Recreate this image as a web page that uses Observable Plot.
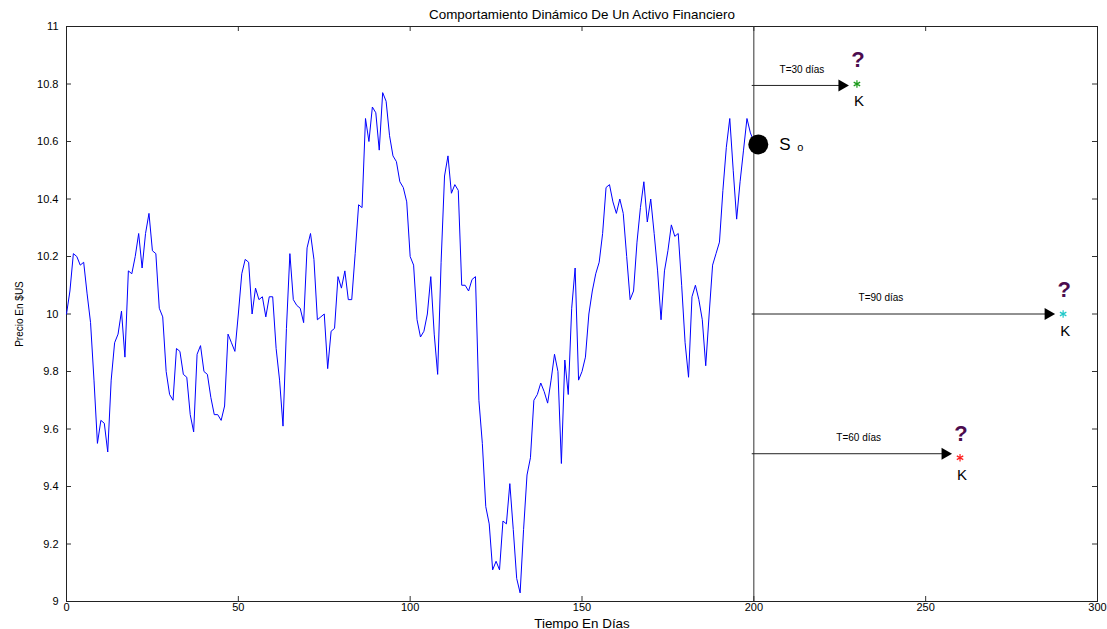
<!DOCTYPE html>
<html>
<head>
<meta charset="utf-8">
<script src="https://cdn.jsdelivr.net/npm/d3@7"></script>
<script src="https://cdn.jsdelivr.net/npm/@observablehq/plot@0.6"></script>
<style>
  html, body { margin: 0; padding: 0; background: #fff; }
  #chart svg { display: block; }
</style>
</head>
<body>
<div id="chart"></div>
<script>
// ---- data ----
const prices = [
  10.00, 10.08, 10.21, 10.20, 10.17, 10.18, 10.07, 9.97, 9.77, 9.55,
  9.63, 9.62, 9.52, 9.77, 9.90, 9.93, 10.01, 9.85, 10.15, 10.14,
  10.20, 10.28, 10.16, 10.28, 10.35, 10.22, 10.21, 10.02, 9.99, 9.80,
  9.72, 9.70, 9.88, 9.87, 9.79, 9.78, 9.65, 9.59, 9.86, 9.89,
  9.80, 9.79, 9.71, 9.65, 9.65, 9.63, 9.68, 9.93, 9.90, 9.87,
  10.00, 10.14, 10.19, 10.18, 10.00, 10.09, 10.05, 10.06, 9.99, 10.06,
  10.06, 9.88, 9.77, 9.61, 9.95, 10.21, 10.05, 10.03, 10.02, 9.97,
  10.23, 10.28, 10.19, 9.98, 9.99, 10.00, 9.81, 9.94, 9.95, 10.13,
  10.09, 10.15, 10.05, 10.05, 10.21, 10.38, 10.37, 10.68, 10.60, 10.72,
  10.70, 10.57, 10.77, 10.74, 10.62, 10.55, 10.53, 10.46, 10.44, 10.39,
  10.20, 10.17, 9.98, 9.92, 9.94, 10.00, 10.13, 9.93, 9.79, 10.18,
  10.48, 10.55, 10.42, 10.45, 10.43, 10.10, 10.10, 10.08, 10.12, 10.13,
  9.70, 9.55, 9.33, 9.27, 9.11, 9.14, 9.11, 9.28, 9.27, 9.41,
  9.25, 9.08, 9.03, 9.25, 9.44, 9.50, 9.70, 9.72, 9.76, 9.73,
  9.69, 9.77, 9.86, 9.80, 9.48, 9.84, 9.72, 10.02, 10.16, 9.77,
  9.80, 9.85, 10.00, 10.08, 10.14, 10.18, 10.28, 10.44, 10.45, 10.39,
  10.35, 10.40, 10.35, 10.20, 10.05, 10.08, 10.25, 10.37, 10.46, 10.32,
  10.40, 10.28, 10.15, 9.98, 10.15, 10.22, 10.31, 10.27, 10.28, 10.10,
  9.90, 9.78, 10.06, 10.10, 10.05, 9.98, 9.82, 10.00, 10.17, 10.21,
  10.25, 10.43, 10.58, 10.68, 10.50, 10.33, 10.46, 10.57, 10.68, 10.63,
  10.60
];
const today = 200;                       // day of S0 (vertical line)
const s0Day = 201.3;                     // where the S0 marker sits
const s0Price = 10.59;
const horizons = [30, 90, 60];           // T in days
const strikes = [10.8, 10.0, 9.5];       // K values
const arrowLevels = [10.795, 10.0, 9.514];
const horizonLabels = ["T=30 días", "T=90 días", "T=60 días"];
const horizonLabelDay = [214, 237, 230.5];
const xTicks = [0, 50, 100, 150, 200, 250, 300];
const yTicks = [9, 9.2, 9.4, 9.6, 9.8, 10, 10.2, 10.4, 10.6, 10.8, 11];
const xDomain = [0, 300];
const yDomain = [9, 11];
const titleText = "Comportamiento Dinámico De Un Activo Financiero";
const xLabel = "Tiempo En Días";
const yLabel = "Precio En $US";

// ---- styles / layout ----
const starColors = ["#1a9a1a", "#20c8c8", "#ff2020"];
const qColor = "#4b0c4e";
const FONT = "'Liberation Sans', Arial, Helvetica, sans-serif";
const W = 1107, H = 629, ML = 66, MR = 10, MT = 26, MB = 28;
const TICK = 5; // px
const [x0, x1] = xDomain, [y0, y1] = yDomain;
// tick length expressed in data units (derived from the layout)
const tx = TICK * (x1 - x0) / (W - ML - MR);
const ty = TICK * (y1 - y0) / (H - MT - MB);

// ---- derived tables ----
const series = prices.map((p, i) => ({day: i, price: p}));
const targets = horizons.map((T, i) => ({
  T, K: strikes[i], A: arrowLevels[i], label: horizonLabels[i], labelDay: horizonLabelDay[i],
  color: starColors[i], end: today + T
}));
const fmt = d => String(+d.toFixed(1));

const chart = Plot.plot({
  width: W,
  height: H,
  marginLeft: ML,
  marginRight: MR,
  marginTop: MT,
  marginBottom: MB,
  style: {fontFamily: FONT, fontSize: "11px", color: "#000", background: "#fff", overflow: "visible"},
  x: {domain: xDomain},
  y: {domain: yDomain},
  marks: [
    // inward ticks on all four sides
    Plot.ruleX(xTicks, {x: d => d, y1: y0, y2: y0 + ty, stroke: "#333"}),
    Plot.ruleX(xTicks, {x: d => d, y1: y1 - ty, y2: y1, stroke: "#333"}),
    Plot.ruleY(yTicks, {y: d => d, x1: x0, x2: x0 + tx, stroke: "#333"}),
    Plot.ruleY(yTicks, {y: d => d, x1: x1 - tx, x2: x1, stroke: "#333"}),
    // tick labels
    Plot.axisX(xTicks, {anchor: "bottom", tickSize: 0, tickPadding: 2, label: null, fontSize: 11}),
    Plot.axisY(yTicks, {anchor: "left", tickSize: 0, tickPadding: 8, tickFormat: fmt, label: null, fontSize: 11}),
    Plot.frame({stroke: "#222"}),
    // S0 day
    Plot.ruleX([today], {stroke: "#333", strokeWidth: 1}),
    // price path
    Plot.line(series, {x: "day", y: "price", stroke: "#0000ff", strokeWidth: 1}),
    // horizon arrows
    Plot.arrow(targets, {x1: () => today - 0.5, x2: "end", y1: "A", y2: "A", insetEnd: 12, headLength: 0, stroke: "#222", strokeWidth: 1}),
    Plot.dot(targets, {x: "end", y: "A", dx: -15, symbol: "triangle", rotate: 90, r: 4.5, fill: "#000", stroke: null}),
    Plot.text(targets, {x: "labelDay", y: "A", text: "label", dy: -16, fontSize: 10}),
    // strikes
    Plot.dot(targets, {x: "end", y: "K", symbol: "asterisk", r: 3.5, stroke: "color", strokeWidth: 1.2}),
    Plot.text(targets, {x: "end", y: "K", text: () => "K", dx: 2, dy: 17, fontSize: 15}),
    Plot.text(targets, {x: "end", y: "K", text: () => "?", dx: 1, dy: -24, fontSize: 22, fontWeight: "bold", fill: qColor}),
    // S0 marker
    Plot.dot([{day: s0Day, price: s0Price}], {x: "day", y: "price", r: 10, fill: "#000", stroke: null}),
    Plot.text([{day: s0Day, price: s0Price}], {x: "day", y: "price", text: () => "S", dx: 21, textAnchor: "start", fontSize: 17}),
    Plot.text([{day: s0Day, price: s0Price}], {x: "day", y: "price", text: () => "o", dx: 39, dy: 3, textAnchor: "start", fontSize: 11}),
    // title & axis labels
    Plot.text([titleText], {frameAnchor: "top", lineAnchor: "middle", dy: -12, fontSize: 13.4}),
    Plot.text([xLabel], {frameAnchor: "bottom", lineAnchor: "middle", dy: 22, fontSize: 13.4}),
    Plot.text([yLabel], {frameAnchor: "left", textAnchor: "middle", lineAnchor: "middle", dx: -47, rotate: -90, fontSize: 10})
  ]
});
document.getElementById("chart").appendChild(chart);
</script>
</body>
</html>
